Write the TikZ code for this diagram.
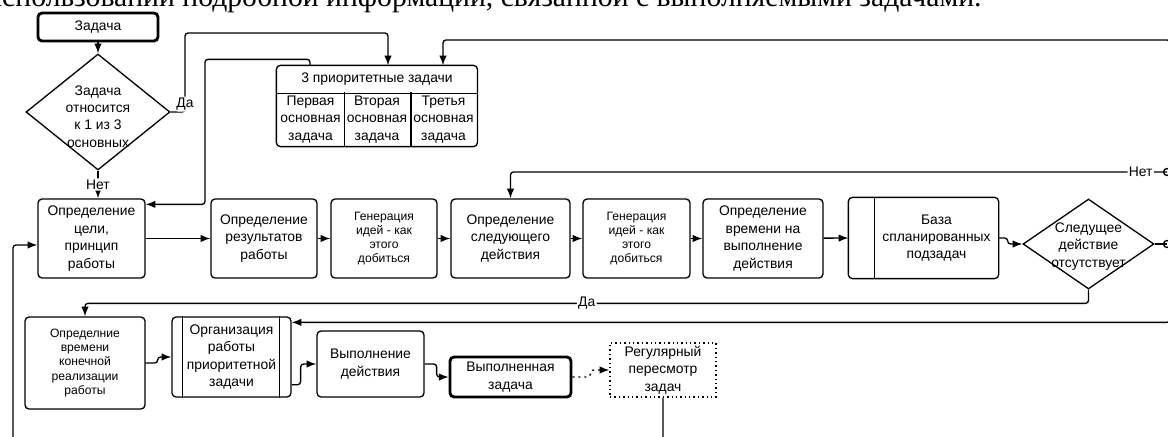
\documentclass[tikz,border=0pt]{standalone}
\usepackage{fontspec}
\setmainfont{Liberation Serif}
\newfontfamily\diagfont{Liberation Sans}
\usetikzlibrary{arrows.meta,shapes.geometric}
\tikzset{
  >={Latex[length=5.5pt,width=4.2pt]},
  boxbase/.style = {line width=0.75pt, align=center, inner sep=1pt,
                    font=\diagfont\fontsize{7.9}{9.9}\selectfont},
  smalltext/.style = {font=\diagfont\fontsize{6.9}{8}\selectfont},
  process/.style = {boxbase, draw, rounded corners=2.3pt},
  terminal/.style = {process, line width=1.6pt},
  decision/.style = {boxbase, draw, diamond, inner sep=0},
  dtext/.style = {boxbase, inner sep=0},
  review/.style = {boxbase, draw, dash pattern=on 0.8pt off 1.7pt},
  cell/.style = {boxbase, inner sep=0},
  frame/.style = {line width=0.75pt, rounded corners=2.3pt},
  rule/.style = {line width=0.75pt},
  conn/.style = {line width=0.75pt, rounded corners=1.7pt},
  lbl/.style = {boxbase, fill=white, inner sep=0.8pt},
}
\begin{document}
\begin{tikzpicture}[x=0.02cm, y=-0.02cm]
\useasboundingbox (0,0) rectangle (1168,436);
\clip (0,0) rectangle (1168,436);

\node[anchor=base east, inner sep=0, font=\fontsize{16.9}{19}\selectfont] (intro) at (982,7)
  {использовании подробной информации, связанной с выполняемыми задачами.};

% top part
\node[terminal, minimum width=2.4cm, minimum height=0.56cm] (start) at (98,27) {Задача};
\node[decision, minimum width=2.88cm, minimum height=2.32cm,
      label={[dtext,yshift=-0.09cm]center:{Задача\\относится\\к 1 из 3\\основных}}] (dec1) at (98,112) {};

\node[cell, minimum width=4cm, minimum height=0.54cm] (prio) at (377,79.5) {3 приоритетные задачи};
\node[cell, minimum width=1.333cm, minimum height=1.06cm] (p1) at (310.5,119.5) {Первая\\основная\\задача};
\node[cell, minimum width=1.333cm, minimum height=1.06cm] (p2) at (377,119.5) {Вторая\\основная\\задача};
\node[cell, minimum width=1.333cm, minimum height=1.06cm] (p3) at (443.5,119.5) {Третья\\основная\\задача};
\draw[frame] (prio.north west) rectangle (p3.south east);
\draw[rule] (prio.south west) -- (prio.south east)
            (p1.north east) -- (p1.south east)
            (p2.north east) -- (p2.south east);

% middle row
\node[process, minimum width=2.14cm, minimum height=1.58cm] (goal) at (91.5,238.5) {Определение\\цели,\\принцип\\работы};
\node[process, minimum width=2.12cm, minimum height=1.58cm] (res) at (264,238.5) {Определение\\результатов\\работы};
\node[process, smalltext, minimum width=2.12cm, minimum height=1.58cm] (gen1) at (384,238.5) {Генерация\\идей - как\\этого\\добиться};
\node[process, minimum width=2.38cm, minimum height=1.58cm] (next) at (510.5,238.5) {Определение\\следующего\\действия};
\node[process, smalltext, minimum width=2.14cm, minimum height=1.58cm] (gen2) at (636.5,238.5) {Генерация\\идей - как\\этого\\добиться};
\node[process, minimum width=2.4cm, minimum height=1.58cm] (time) at (763,238.5) {Определение\\времени на\\выполнение\\действия};
\node[cell, minimum width=2.46cm, minimum height=1.6cm] (store) at (936.5,238) {База\\спланированных\\подзадач};
\draw[frame] ([xshift=-0.52cm]store.north west) rectangle (store.south east);
\draw[rule] (store.north west) -- (store.south west);
\node[decision, minimum width=2.62cm, minimum height=1.8cm,
      label={[dtext,yshift=-0.05cm]center:{Следущее\\действие\\отсутствует}}] (dec2) at (1088.5,244) {};

% bottom row
\node[process, smalltext, minimum width=2.4cm, minimum height=1.84cm] (fin) at (85,363) {Определние\\времени\\конечной\\реализации\\работы};
\node[process, minimum width=2.38cm, minimum height=1.6cm] (org) at (231.5,357) {Организация\\работы\\приоритетной\\задачи};
\draw[rule] ([xshift=0.22cm]org.north west) -- ([xshift=0.22cm]org.south west)
            ([xshift=-0.24cm]org.north east) -- ([xshift=-0.24cm]org.south east);
\node[process, minimum width=2.14cm, minimum height=1.32cm] (do) at (370.5,364) {Выполнение\\действия};
\node[terminal, minimum width=2.42cm, minimum height=0.8cm] (done) at (510.5,377) {Выполненная\\задача};
\node[review, minimum width=2.12cm, minimum height=1.08cm] (rev) at (663,370) {Регулярный\\пересмотр\\задач};

\coordinate (topR) at (1170,60);
\coordinate (netR) at (1167,172);
\coordinate (decR) at (1167,244);
\coordinate (botR) at (1170,290);

% connectors
\draw[conn,->] (start) -- (dec1);
\draw[conn,->] (dec1.south) -- node[lbl]{Нет} (dec1.south |- goal.north);
\draw[conn,->] (dec1.east) -- (185,112) -- node[lbl,pos=0.1]{Да} (185,33) -| ([xshift=0.22cm]prio.north);
\draw[conn,->] ([xshift=-1.34cm]prio.north) -- ++(0,-6) -| (205,120) |- ([yshift=-0.12cm]goal.north east);
\draw[conn,->] (topR) |- (443,40) -- ([xshift=1.32cm]prio.north);

\path[conn,->] (goal) edge (res)
               (res) edge (gen1)
               (gen1) edge (next)
               (next) edge (gen2)
               (gen2) edge (time);
\draw[conn,->] (time) -- ([xshift=-0.52cm]store.west);
\draw[conn,->] (store.east) -- ++(9,0) |- (dec2.west);
\draw[conn] (dec2.east) -- (decR);
\draw[rule] (decR) circle[radius=0.07cm];
\draw[conn,->] (netR) -| node[lbl,pos=0.02]{Нет} (next.north);
\draw[rule] (netR) circle[radius=0.07cm];
\draw[conn,->] (dec2.south) |- node[lbl,pos=0.75]{Да} ([yshift=0.26cm]fin.north) -- (fin.north);
\draw[conn,->] (botR) |- ([yshift=-0.12cm]org.north east);

\draw[conn,->] (fin.east) -- ++(12,0) |- (org.west);
\draw[conn,->] ([yshift=0.26cm]org.south east) -- ++(9,0) |- (do.west);
\draw[conn,->] (do.east) -- ++(12,0) |- (done.west);
\draw[conn,dash pattern=on 1.2pt off 2.2pt,->] (done.east) -- ++(18,0) |- (rev.west);
\draw[conn,->] (rev.south) |- (13,470) |- ([yshift=-0.13cm]goal.west);
\end{tikzpicture}
\end{document}
